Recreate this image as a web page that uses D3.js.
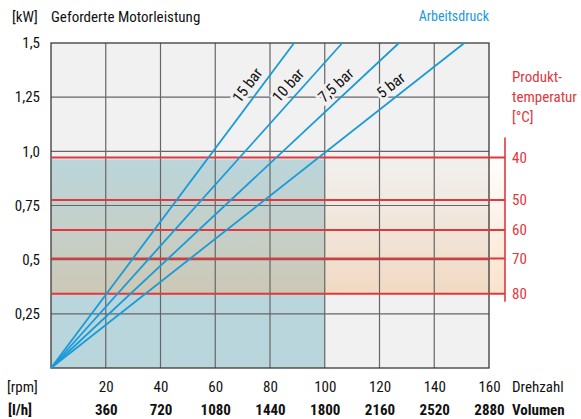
<!DOCTYPE html>
<html>
<head>
<meta charset="utf-8">
<script src="https://cdn.jsdelivr.net/npm/d3@7"></script>
<style>
  html, body { margin: 0; padding: 0; background: #fff; }
  svg { display: block; }
  text { font-family: "Roboto Condensed", "Liberation Sans Narrow", Roboto, sans-serif; }
</style>
</head>
<body>
<svg id="chart" width="581" height="419"></svg>
<script>
// Drehzahl ticks and matching volume flow
const rpmTicks = [20, 40, 60, 80, 100, 120, 140, 160];
const volumeTicks = [360, 720, 1080, 1440, 1800, 2160, 2520, 2880];

// power axis
const kwTicks = [0.25, 0.5, 0.75, 1.0, 1.25, 1.5];
const kwLabels = ['0,25', '0,5', '0,75', '1,0', '1,25', '1,5'];

// Arbeitsdruck lines: rpm where each line reaches 1.5 kW
const pressureLabels = ['15 bar', '10 bar', '7,5 bar', '5 bar'];
const pressureRpmAtMax = [88.8, 106.4, 127.1, 151.0];

// Produkttemperatur levels (kW)
const tempLabels = ['40', '50', '60', '70', '80'];
const tempKw = [0.972, 0.775, 0.637, 0.505, 0.343];

// shaded operating range of the pump
const rangeMaxRpm = 100;
const rangeMaxKw = 0.963;

const red = '#e0383e';
const blue = '#1a9ad7';

const svg = d3.select('#chart');

const x = d3.scaleLinear().domain([0, 160]).range([51, 489]);
const y = d3.scaleLinear().domain([0, 1.5]).range([368, 43]);
const tempAxisX = x(160) + 16;

const defs = svg.append('defs');
const grad = defs.append('linearGradient')
  .attr('id', 'tempGrad')
  .attr('x1', 0).attr('y1', 0).attr('x2', 0).attr('y2', 1);
grad.append('stop').attr('offset', '0%').attr('stop-color', '#f5b97c').attr('stop-opacity', 0.02);
grad.append('stop').attr('offset', '100%').attr('stop-color', '#f0b070').attr('stop-opacity', 0.36);

// plot background
svg.append('rect')
  .attr('x', x(0)).attr('y', y(1.5))
  .attr('width', x(160) - x(0)).attr('height', y(0) - y(1.5))
  .attr('fill', '#f1f1f1');

// operating range
svg.append('rect')
  .attr('x', x(0)).attr('y', y(rangeMaxKw))
  .attr('width', x(rangeMaxRpm) - x(0)).attr('height', y(0) - y(rangeMaxKw))
  .attr('fill', '#b9d6dd');

// temperature band
svg.append('rect')
  .attr('x', x(0)).attr('y', y(tempKw[0]))
  .attr('width', tempAxisX - x(0)).attr('height', y(tempKw[tempKw.length - 1]) - y(tempKw[0]))
  .attr('fill', 'url(#tempGrad)');

// grid
const grid = svg.append('g').attr('class', 'grid')
  .attr('stroke', '#666').attr('stroke-width', 1.2);
grid.selectAll('.vline')
  .data(rpmTicks.slice(0, -1))
  .enter().append('line')
  .attr('x1', d => x(d)).attr('x2', d => x(d))
  .attr('y1', y(0)).attr('y2', y(1.5));
grid.selectAll('.hline')
  .data(kwTicks.slice(0, -1))
  .enter().append('line')
  .attr('x1', x(0)).attr('x2', x(160))
  .attr('y1', d => y(d)).attr('y2', d => y(d));

// frame
svg.append('rect')
  .attr('x', x(0)).attr('y', y(1.5))
  .attr('width', x(160) - x(0)).attr('height', y(0) - y(1.5))
  .attr('fill', 'none').attr('stroke', '#3a3a3a').attr('stroke-width', 1.3);

// temperature lines + axis
const temp = svg.append('g').attr('class', 'temp');
temp.selectAll('line')
  .data(tempKw)
  .enter().append('line')
  .attr('x1', x(0)).attr('x2', tempAxisX)
  .attr('y1', d => y(d)).attr('y2', d => y(d))
  .attr('stroke', red).attr('stroke-width', 2);
temp.append('line')
  .attr('x1', tempAxisX).attr('x2', tempAxisX)
  .attr('y1', y(tempKw[0]) - 20).attr('y2', y(tempKw[tempKw.length - 1]) + 8)
  .attr('stroke', red).attr('stroke-width', 1.6);
temp.selectAll('text')
  .data(tempKw)
  .enter().append('text')
  .attr('x', tempAxisX + 7)
  .attr('y', d => y(d))
  .attr('dy', '0.36em')
  .attr('font-size', 15)
  .attr('fill', red)
  .text((d, i) => tempLabels[i]);
temp.selectAll('.title')
  .data(['Produkt-', 'temperatur', '[°C]'])
  .enter().append('text')
  .attr('x', tempAxisX + 7)
  .attr('y', (d, i) => 82 + i * 20)
  .attr('font-size', 15)
  .attr('fill', red)
  .text(d => d);

// pressure lines
const lines = svg.append('g').attr('class', 'pressure');
lines.selectAll('line')
  .data(pressureRpmAtMax)
  .enter().append('line')
  .attr('x1', x(0)).attr('y1', y(0))
  .attr('x2', d => x(d)).attr('y2', y(1.5))
  .attr('stroke', blue).attr('stroke-width', 1.8);

const labelKw = 1.306;
const labelGap = 12.5;
lines.selectAll('text')
  .data(pressureRpmAtMax)
  .enter().append('text')
  .attr('transform', d => {
    const dx = x(d) - x(0);
    const dy = y(1.5) - y(0);
    const a = Math.atan2(dy, dx);
    const cx = x(d * labelKw / 1.5) - labelGap / Math.abs(Math.sin(a));
    const cy = y(labelKw);
    return 'translate(' + cx + ',' + cy + ') rotate(' + (a * 180 / Math.PI) + ')';
  })
  .attr('text-anchor', 'middle')
  .attr('dy', '0.36em')
  .attr('font-size', 15.5)
  .attr('fill', '#111')
  .attr('stroke', '#f1f1f1')
  .attr('stroke-width', 5)
  .attr('paint-order', 'stroke')
  .text((d, i) => pressureLabels[i]);

// axes
const kwAxis = svg.append('g')
  .attr('transform', 'translate(' + (x(0) - 11) + ',0)')
  .call(d3.axisLeft(y).tickValues(kwTicks).tickSize(0).tickPadding(0)
    .tickFormat((d, i) => kwLabels[i]));
kwAxis.select('.domain').remove();
kwAxis.selectAll('text').attr('font-size', 15).attr('fill', '#111')
  .attr('font-family', null);

const rpmAxis = svg.append('g')
  .attr('transform', 'translate(0,' + 381 + ')')
  .call(d3.axisBottom(x).tickValues(rpmTicks).tickSize(0).tickPadding(0));
rpmAxis.select('.domain').remove();
rpmAxis.selectAll('text').attr('font-size', 15).attr('fill', '#111')
  .attr('font-family', null);

const volAxis = svg.append('g')
  .attr('transform', 'translate(0,' + 404 + ')')
  .call(d3.axisBottom(x).tickValues(rpmTicks).tickSize(0).tickPadding(0)
    .tickFormat((d, i) => volumeTicks[i]));
volAxis.select('.domain').remove();
volAxis.selectAll('text').attr('font-size', 15).attr('font-weight', 'bold').attr('fill', '#111')
  .attr('font-family', null);

// titles
svg.append('text').attr('x', 12).attr('y', 22).attr('font-size', 15).attr('fill', '#111').text('[kW]');
svg.append('text').attr('x', 51).attr('y', 22).attr('font-size', 15).attr('fill', '#111').text('Geforderte Motorleistung');
svg.append('text').attr('x', x(160)).attr('y', 21).attr('font-size', 14).attr('fill', blue)
  .attr('text-anchor', 'end').text('Arbeitsdruck');
svg.append('text').attr('x', 7).attr('y', 392).attr('font-size', 15).attr('fill', '#111').text('[rpm]');
svg.append('text').attr('x', 8).attr('y', 415).attr('font-size', 15).attr('font-weight', 'bold').attr('fill', '#111').text('[l/h]');
svg.append('text').attr('x', tempAxisX + 7).attr('y', 392).attr('font-size', 15).attr('fill', '#111').text('Drehzahl');
svg.append('text').attr('x', tempAxisX + 7).attr('y', 415).attr('font-size', 15).attr('font-weight', 'bold').attr('fill', '#111').text('Volumen');
</script>
</body>
</html>
